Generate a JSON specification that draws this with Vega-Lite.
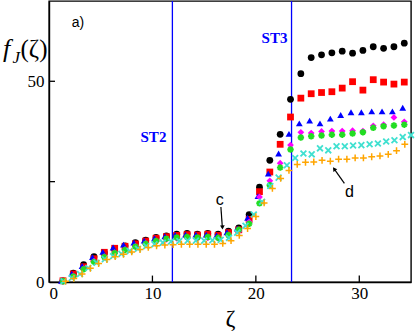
{
  "$schema": "https://vega.github.io/schema/vega-lite/v6.json",
  "autosize": "none",
  "width": 362,
  "height": 281,
  "padding": {"left": 49, "top": 1, "right": 4, "bottom": 50},
  "background": "white",
  "config": {
    "view": {"stroke": "black", "strokeWidth": 1.4},
    "axis": {
      "grid": false,
      "ticks": false,
      "domainColor": "black",
      "domainWidth": 1.4,
      "labelFont": "Liberation Serif",
      "labelFontSize": 17,
      "labelColor": "black",
      "titleFont": "Liberation Serif",
      "titleColor": "black",
      "titleFontWeight": "normal"
    }
  },
  "datasets": {
    "pts": [
      {"s":"A","x":1.35,"y":0.3},{"s":"A","x":2.35,"y":2.2},{"s":"A","x":3.35,"y":4.3},{"s":"A","x":4.35,"y":6.3},{"s":"A","x":5.35,"y":7.3},{"s":"A","x":6.35,"y":8.2},{"s":"A","x":7.35,"y":9.0},{"s":"A","x":8.35,"y":9.8},{"s":"A","x":9.35,"y":10.4},{"s":"A","x":10.35,"y":11.1},{"s":"A","x":11.35,"y":11.5},{"s":"A","x":12.35,"y":11.9},{"s":"A","x":13.35,"y":12.1},{"s":"A","x":14.35,"y":11.9},{"s":"A","x":15.35,"y":12.1},{"s":"A","x":16.35,"y":11.9},{"s":"A","x":17.35,"y":12.7},{"s":"A","x":18.35,"y":13.5},{"s":"A","x":19.35,"y":16.8},{"s":"A","x":20.35,"y":23.6},{"s":"A","x":21.35,"y":30.3},{"s":"A","x":22.35,"y":36.8},{"s":"A","x":23.35,"y":45.5},{"s":"A","x":24.35,"y":51.9},{"s":"A","x":25.35,"y":55.9},{"s":"A","x":26.35,"y":56.6},{"s":"A","x":27.35,"y":57.1},{"s":"A","x":28.35,"y":57.5},{"s":"A","x":29.35,"y":57.0},{"s":"A","x":30.35,"y":57.7},{"s":"A","x":31.35,"y":58.6},{"s":"A","x":32.35,"y":58.2},{"s":"A","x":33.35,"y":58.6},{"s":"A","x":34.35,"y":59.5},
      {"s":"B","x":1.35,"y":0.3},{"s":"B","x":2.35,"y":2.0},{"s":"B","x":3.35,"y":3.8},{"s":"B","x":4.35,"y":5.8},{"s":"B","x":5.35,"y":7.4},{"s":"B","x":6.35,"y":8.4},{"s":"B","x":7.35,"y":8.9},{"s":"B","x":8.35,"y":9.5},{"s":"B","x":9.35,"y":10.2},{"s":"B","x":10.35,"y":10.9},{"s":"B","x":11.35,"y":11.3},{"s":"B","x":12.35,"y":11.6},{"s":"B","x":13.35,"y":11.8},{"s":"B","x":14.35,"y":11.7},{"s":"B","x":15.35,"y":11.9},{"s":"B","x":16.35,"y":11.6},{"s":"B","x":17.35,"y":12.3},{"s":"B","x":18.35,"y":13.0},{"s":"B","x":19.35,"y":15.6},{"s":"B","x":20.35,"y":22.5},{"s":"B","x":21.35,"y":27.4},{"s":"B","x":22.35,"y":34.3},{"s":"B","x":23.35,"y":41.1},{"s":"B","x":24.35,"y":45.8},{"s":"B","x":25.35,"y":46.9},{"s":"B","x":26.35,"y":47.2},{"s":"B","x":27.35,"y":47.4},{"s":"B","x":28.35,"y":48.3},{"s":"B","x":29.35,"y":49.9},{"s":"B","x":30.35,"y":47.8},{"s":"B","x":31.35,"y":50.4},{"s":"B","x":32.35,"y":49.8},{"s":"B","x":33.35,"y":49.3},{"s":"B","x":34.35,"y":49.8},
      {"s":"C","x":1.2,"y":0.3},{"s":"C","x":2.2,"y":2.1},{"s":"C","x":3.2,"y":4.0},{"s":"C","x":4.2,"y":6.2},{"s":"C","x":5.2,"y":7.5},{"s":"C","x":6.2,"y":8.6},{"s":"C","x":7.2,"y":9.3},{"s":"C","x":8.2,"y":9.8},{"s":"C","x":9.2,"y":10.3},{"s":"C","x":10.2,"y":10.9},{"s":"C","x":11.2,"y":11.4},{"s":"C","x":12.2,"y":11.7},{"s":"C","x":13.2,"y":11.8},{"s":"C","x":14.2,"y":11.8},{"s":"C","x":15.2,"y":11.8},{"s":"C","x":16.2,"y":11.6},{"s":"C","x":17.2,"y":12.4},{"s":"C","x":18.2,"y":13.3},{"s":"C","x":19.2,"y":16.0},{"s":"C","x":20.2,"y":21.4},{"s":"C","x":21.2,"y":27.0},{"s":"C","x":22.2,"y":32.0},{"s":"C","x":23.2,"y":36.9},{"s":"C","x":24.2,"y":39.5},{"s":"C","x":25.2,"y":40.2},{"s":"C","x":26.2,"y":39.5},{"s":"C","x":27.2,"y":40.7},{"s":"C","x":28.2,"y":41.6},{"s":"C","x":29.2,"y":42.3},{"s":"C","x":30.2,"y":42.3},{"s":"C","x":31.2,"y":42.5},{"s":"C","x":32.2,"y":42.5},{"s":"C","x":33.2,"y":42.5},{"s":"C","x":34.2,"y":43.4},
      {"s":"D","x":1.35,"y":0.2},{"s":"D","x":2.35,"y":1.5},{"s":"D","x":3.35,"y":3.3},{"s":"D","x":4.35,"y":5.2},{"s":"D","x":5.35,"y":6.3},{"s":"D","x":6.35,"y":7.3},{"s":"D","x":7.35,"y":8.1},{"s":"D","x":8.35,"y":8.9},{"s":"D","x":9.35,"y":9.6},{"s":"D","x":10.35,"y":10.2},{"s":"D","x":11.35,"y":10.6},{"s":"D","x":12.35,"y":10.9},{"s":"D","x":13.35,"y":11.0},{"s":"D","x":14.35,"y":10.9},{"s":"D","x":15.35,"y":11.0},{"s":"D","x":16.35,"y":10.9},{"s":"D","x":17.35,"y":11.6},{"s":"D","x":18.35,"y":12.6},{"s":"D","x":19.35,"y":15.0},{"s":"D","x":20.35,"y":21.2},{"s":"D","x":21.35,"y":25.2},{"s":"D","x":22.35,"y":29.6},{"s":"D","x":23.35,"y":34.1},{"s":"D","x":24.35,"y":37.3},{"s":"D","x":25.35,"y":37.1},{"s":"D","x":26.35,"y":37.5},{"s":"D","x":27.35,"y":37.6},{"s":"D","x":28.35,"y":37.6},{"s":"D","x":29.35,"y":37.7},{"s":"D","x":30.35,"y":37.6},{"s":"D","x":31.35,"y":38.9},{"s":"D","x":32.35,"y":39.2},{"s":"D","x":33.35,"y":41.0},{"s":"D","x":34.35,"y":39.9},
      {"s":"E","x":1.35,"y":0.2},{"s":"E","x":2.35,"y":1.4},{"s":"E","x":3.35,"y":3.2},{"s":"E","x":4.35,"y":5.0},{"s":"E","x":5.35,"y":6.2},{"s":"E","x":6.35,"y":7.2},{"s":"E","x":7.35,"y":8.0},{"s":"E","x":8.35,"y":8.8},{"s":"E","x":9.35,"y":9.5},{"s":"E","x":10.35,"y":10.2},{"s":"E","x":11.35,"y":10.8},{"s":"E","x":12.35,"y":11.1},{"s":"E","x":13.35,"y":11.2},{"s":"E","x":14.35,"y":11.1},{"s":"E","x":15.35,"y":11.2},{"s":"E","x":16.35,"y":11.0},{"s":"E","x":17.35,"y":11.7},{"s":"E","x":18.35,"y":13.0},{"s":"E","x":19.35,"y":14.5},{"s":"E","x":20.35,"y":19.6},{"s":"E","x":21.35,"y":24.1},{"s":"E","x":22.35,"y":28.5},{"s":"E","x":23.35,"y":33.0},{"s":"E","x":24.35,"y":36.0},{"s":"E","x":25.35,"y":36.3},{"s":"E","x":26.35,"y":36.5},{"s":"E","x":27.35,"y":36.7},{"s":"E","x":28.35,"y":36.7},{"s":"E","x":29.35,"y":37.0},{"s":"E","x":30.35,"y":37.3},{"s":"E","x":31.35,"y":38.4},{"s":"E","x":32.35,"y":38.8},{"s":"E","x":33.35,"y":39.0},{"s":"E","x":34.35,"y":39.2},
      {"s":"F","x":1.4,"y":0.2},{"s":"F","x":2.2,"y":1.0},{"s":"F","x":3.0,"y":2.0},{"s":"F","x":3.8,"y":3.5},{"s":"F","x":4.6,"y":4.8},{"s":"F","x":5.4,"y":5.7},{"s":"F","x":6.2,"y":6.4},{"s":"F","x":7.0,"y":7.0},{"s":"F","x":7.8,"y":7.7},{"s":"F","x":8.6,"y":8.3},{"s":"F","x":9.4,"y":8.9},{"s":"F","x":10.2,"y":9.4},{"s":"F","x":11.0,"y":9.8},{"s":"F","x":11.8,"y":10.1},{"s":"F","x":12.6,"y":10.2},{"s":"F","x":13.4,"y":10.3},{"s":"F","x":14.2,"y":10.3},{"s":"F","x":15.0,"y":10.3},{"s":"F","x":15.8,"y":10.4},{"s":"F","x":16.6,"y":10.5},{"s":"F","x":17.4,"y":11.0},{"s":"F","x":18.2,"y":12.3},{"s":"F","x":19.0,"y":14.0},{"s":"F","x":19.8,"y":16.8},{"s":"F","x":20.6,"y":20.0},{"s":"F","x":21.4,"y":23.9},{"s":"F","x":22.2,"y":26.0},{"s":"F","x":23.0,"y":29.1},{"s":"F","x":23.8,"y":30.9},{"s":"F","x":24.6,"y":32.0},{"s":"F","x":25.4,"y":31.8},{"s":"F","x":26.2,"y":33.3},{"s":"F","x":27.0,"y":32.8},{"s":"F","x":27.8,"y":33.8},{"s":"F","x":28.6,"y":33.8},{"s":"F","x":29.4,"y":34.0},{"s":"F","x":30.2,"y":34.1},{"s":"F","x":31.0,"y":34.3},{"s":"F","x":31.8,"y":34.5},{"s":"F","x":32.6,"y":35.0},{"s":"F","x":33.4,"y":35.3},{"s":"F","x":34.2,"y":36.1},{"s":"F","x":35.0,"y":36.6},
      {"s":"G","x":1.6,"y":0.2},{"s":"G","x":2.4,"y":0.9},{"s":"G","x":3.2,"y":2.0},{"s":"G","x":4.0,"y":3.4},{"s":"G","x":4.8,"y":4.6},{"s":"G","x":5.6,"y":5.6},{"s":"G","x":6.4,"y":6.3},{"s":"G","x":7.2,"y":6.9},{"s":"G","x":8.0,"y":7.5},{"s":"G","x":8.8,"y":8.1},{"s":"G","x":9.6,"y":8.6},{"s":"G","x":10.4,"y":9.0},{"s":"G","x":11.2,"y":9.2},{"s":"G","x":12.0,"y":9.3},{"s":"G","x":12.8,"y":9.4},{"s":"G","x":13.6,"y":9.4},{"s":"G","x":14.4,"y":9.4},{"s":"G","x":15.2,"y":9.4},{"s":"G","x":16.0,"y":9.4},{"s":"G","x":16.8,"y":9.6},{"s":"G","x":17.6,"y":10.3},{"s":"G","x":18.4,"y":11.6},{"s":"G","x":19.2,"y":13.3},{"s":"G","x":20.0,"y":16.3},{"s":"G","x":20.8,"y":19.7},{"s":"G","x":21.6,"y":23.3},{"s":"G","x":22.4,"y":25.8},{"s":"G","x":23.2,"y":27.8},{"s":"G","x":24.0,"y":29.3},{"s":"G","x":24.8,"y":29.8},{"s":"G","x":25.6,"y":29.9},{"s":"G","x":26.4,"y":30.3},{"s":"G","x":27.2,"y":30.1},{"s":"G","x":28.0,"y":30.6},{"s":"G","x":28.8,"y":30.6},{"s":"G","x":29.6,"y":30.9},{"s":"G","x":30.4,"y":30.9},{"s":"G","x":31.2,"y":31.2},{"s":"G","x":32.0,"y":31.4},{"s":"G","x":32.8,"y":31.8},{"s":"G","x":33.6,"y":32.7},{"s":"G","x":34.4,"y":34.3}
    ]
  },
  "encoding": {
    "x": {
      "field": "x", "type": "quantitative",
      "scale": {"domain": [0, 35], "nice": false, "zero": false},
      "axis": {"values": [0, 10, 20, 30], "labelPadding": 3, "title": "ζ", "titleFontSize": 24, "titlePadding": 5}
    },
    "y": {
      "field": "y", "type": "quantitative",
      "scale": {"domain": [0, 70], "nice": false, "zero": false},
      "axis": {"values": [0, 25, 50], "labelExpr": "datum.value == 25 ? '' : datum.label", "labelPadding": 5, "title": null}
    }
  },
  "layer": [
    {
      "data": {"values": [{"x": 0, "y": 25, "x2": 0.58, "y2": 25}, {"x": 0, "y": 50, "x2": 0.58, "y2": 50}, {"x": 10, "y": 0, "x2": 10, "y2": 1.6}, {"x": 20, "y": 0, "x2": 20, "y2": 1.6}, {"x": 30, "y": 0, "x2": 30, "y2": 1.6}]},
      "mark": {"type": "rule", "color": "black", "strokeWidth": 1.3},
      "encoding": {"x2": {"field": "x2"}, "y2": {"field": "y2"}}
    },
    {
      "data": {"values": [{"x": 11.93, "y": 0, "y2": 70}, {"x": 23.45, "y": 0, "y2": 70}]},
      "mark": {"type": "rule", "color": "#0000ff", "strokeWidth": 1.3},
      "encoding": {"y2": {"field": "y2"}}
    },
    {
      "data": {"name": "pts"},
      "transform": [{"filter": "datum.s == 'A' || datum.s == 'B' || datum.s == 'C' || datum.s == 'D'"}],
      "mark": {"type": "point", "filled": true, "size": 46, "opacity": 1},
      "encoding": {
        "color": {"field": "s", "type": "nominal", "scale": {"domain": ["A", "B", "C", "D"], "range": ["#000000", "#ff0000", "#0000ff", "#ff00ff"]}, "legend": null},
        "shape": {"field": "s", "type": "nominal", "scale": {"domain": ["A", "B", "C", "D"], "range": ["circle", "square", "triangle-up", "diamond"]}, "legend": null}
      }
    },
    {
      "data": {"name": "pts"},
      "transform": [{"filter": "datum.s == 'E'"}],
      "mark": {"type": "point", "filled": false, "size": 42, "opacity": 1, "strokeWidth": 1.9, "color": "#22dd22", "shape": "M-1,0L1,0M0,-1L0,1M-0.7,-0.7L0.7,0.7M-0.7,0.7L0.7,-0.7"}
    },
    {
      "data": {"name": "pts"},
      "transform": [{"filter": "datum.s == 'F'"}],
      "mark": {"type": "point", "filled": false, "size": 34, "opacity": 1, "strokeWidth": 1.8, "color": "#40e0d0", "shape": "M-1,-1L1,1M-1,1L1,-1"}
    },
    {
      "data": {"name": "pts"},
      "transform": [{"filter": "datum.s == 'G'"}],
      "mark": {"type": "point", "filled": false, "size": 46, "opacity": 1, "strokeWidth": 1.5, "color": "#ffa500", "shape": "M-1,0L1,0M0,-1L0,1"}
    },
    {
      "data": {"values": [{"x": 11.35, "y": 36.1, "t": "ST2"}, {"x": 23.05, "y": 60.7, "t": "ST3"}]},
      "mark": {"type": "text", "align": "right", "baseline": "middle", "font": "Liberation Serif", "fontWeight": "bold", "fontSize": 15, "color": "#0000ff"},
      "encoding": {"text": {"field": "t"}}
    },
    {
      "data": {"values": [{"x": 2.2, "y": 64.5, "t": "a)"}]},
      "mark": {"type": "text", "align": "left", "baseline": "middle", "font": "Liberation Sans", "fontSize": 14, "color": "black"},
      "encoding": {"text": {"field": "t"}}
    },
    {
      "data": {"values": [{"x": 16.52, "y": 20.4, "t": "c"}, {"x": 29.04, "y": 22.5, "t": "d"}]},
      "mark": {"type": "text", "align": "center", "baseline": "middle", "font": "Liberation Sans", "fontSize": 16, "color": "black"},
      "encoding": {"text": {"field": "t"}}
    },
    {
      "data": {"values": [{"x": 16.62, "y": 18.7, "x2": 16.76, "y2": 13.6}, {"x": 28.56, "y": 24.55, "x2": 27.57, "y2": 28.17}]},
      "mark": {"type": "rule", "color": "black", "strokeWidth": 1.2},
      "encoding": {"x2": {"field": "x2"}, "y2": {"field": "y2"}}
    },
    {
      "data": {"values": [{"x": 16.77, "y": 13.6, "a": -2}, {"x": 27.57, "y": 28.17, "a": 145}]},
      "mark": {"type": "point", "shape": "triangle-down", "filled": true, "size": 22, "color": "black", "opacity": 1},
      "encoding": {"angle": {"field": "a", "type": "quantitative", "scale": null}}
    },
    {
      "data": {"values": [{"x": -4.45, "y": 56.0, "t": "f"}]},
      "mark": {"type": "text", "align": "left", "baseline": "alphabetic", "font": "Liberation Serif", "fontStyle": "italic", "fontSize": 26, "color": "black"},
      "encoding": {"text": {"field": "t"}}
    },
    {
      "data": {"values": [{"x": -3.53, "y": 54.6, "t": "J"}]},
      "mark": {"type": "text", "align": "left", "baseline": "alphabetic", "font": "Liberation Serif", "fontStyle": "italic", "fontSize": 17, "color": "black"},
      "encoding": {"text": {"field": "t"}}
    },
    {
      "data": {"values": [{"x": -2.76, "y": 56.0, "t": "(ζ)"}]},
      "mark": {"type": "text", "align": "left", "baseline": "alphabetic", "font": "Liberation Serif", "fontSize": 25, "color": "black"},
      "encoding": {"text": {"field": "t"}}
    }
  ]
}
